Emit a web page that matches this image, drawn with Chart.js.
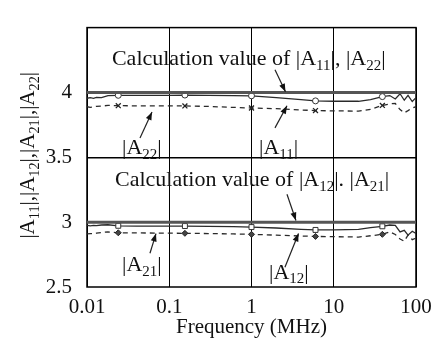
<!DOCTYPE html>
<html><head><meta charset="utf-8">
<script src="https://cdn.jsdelivr.net/npm/chart.js@4/dist/chart.umd.min.js"></script>
<style>html,body{margin:0;padding:0;background:#fff;}#wrap{width:444px;height:347px;position:relative;}</style>
</head><body><div id="wrap"><canvas id="c"></canvas></div>
<script>
// ---- data (frequency in MHz) ----
const freq = [0.01,0.011,0.012,0.013,0.015,0.018,0.024,0.04,0.07,0.1,0.155,0.3,0.6,1,2,4,6,10,20,28,39,48,56,64,72,80,90,100];
const a11 = [3.955,3.96,3.955,3.962,3.96,3.975,3.978,3.978,3.978,3.978,3.98,3.978,3.976,3.974,3.96,3.945,3.935,3.932,3.932,3.945,3.968,3.976,3.95,3.99,3.94,3.978,3.93,3.96];
const a22 = [3.89,3.885,3.888,3.893,3.895,3.9,3.898,3.897,3.897,3.896,3.896,3.892,3.885,3.88,3.875,3.865,3.86,3.858,3.856,3.87,3.9,3.912,3.915,3.868,3.843,3.86,3.88,3.89];
const a12 = [2.975,2.972,2.975,2.973,2.978,2.98,2.972,2.97,2.97,2.97,2.97,2.968,2.965,2.962,2.955,2.945,2.94,2.94,2.945,2.958,2.968,2.978,2.975,2.925,2.937,2.9,2.93,2.913];
const a21 = [2.91,2.912,2.91,2.915,2.92,2.925,2.918,2.917,2.916,2.915,2.914,2.912,2.909,2.906,2.9,2.893,2.89,2.888,2.885,2.895,2.906,2.925,2.905,2.87,2.853,2.9,2.865,2.877];
const calcFreq = [0.01, 100];
const calcA11A22 = [4.0, 4.0];
const calcA12A21 = [3.0, 3.0];
const markerFreqs = [0.024, 0.155, 1, 6, 39];
const xTicks = [0.01, 0.1, 1, 10, 100];
const xTickLabels = ['0.01', '0.1', '1', '10', '100'];
const yTicks = [2.5, 3, 3.5, 4, 4.5];
const yTickLabels = ['2.5', '3', '3.5', '4', ''];
const xTitle = 'Frequency (MHz)';
const yTitle = '|A_{11}|,|A_{12}|,|A_{21}|,|A_{22}|';
// annotations: [text, freq, value]
const noteTexts = ['Calculation value of |A_{11}|, |A_{22}|', 'Calculation value of |A_{12}|. |A_{21}|', '|A_{22}|', '|A_{11}|', '|A_{21}|', '|A_{12}|'];
const noteFreqs = [0.0201, 0.0219, 0.0267, 1.234, 0.0267, 1.633];
const noteValues = [4.211, 3.28, 3.525, 3.525, 2.623, 2.565];
// arrows: tail (freq,value) -> head (freq,value)
const arrowTailFreqs = [0.0441, 1.93, 1.93, 0.0583, 2.70, 2.55];
const arrowTailValues = [3.648, 4.175, 3.727, 2.76, 3.215, 2.652];
const arrowHeadFreqs = [0.0617, 2.59, 2.70, 0.069, 3.47, 3.73];
const arrowHeadValues = [3.85, 4.005, 3.897, 2.912, 3.013, 2.912];

const FONT = "'Liberation Serif','Times New Roman',serif";
const pts = (xs, ys) => xs.map((x, i) => ({x, y: ys[i]}));
const markR = r => ctx => markerFreqs.includes(freq[ctx.dataIndex]) ? r : 0;

function drawRich(ctx, str, x, y, size, measureOnly) {
  const parts = str.split(/_\{(\d+)\}/);
  let cx = x;
  parts.forEach((p, i) => {
    if (!p) return;
    const sub = i % 2 === 1;
    const fs = sub ? size * 0.68 : size;
    ctx.font = fs + 'px ' + FONT;
    if (!measureOnly) ctx.fillText(p, cx, y + (sub ? size * 0.22 : 0));
    cx += ctx.measureText(p).width;
  });
  return cx - x;
}
function arrow(ctx, x1, y1, x2, y2) {
  ctx.beginPath(); ctx.moveTo(x1, y1); ctx.lineTo(x2, y2); ctx.stroke();
  const a = Math.atan2(y2 - y1, x2 - x1), L = 8, W = 3;
  ctx.beginPath();
  ctx.moveTo(x2, y2);
  ctx.lineTo(x2 - L * Math.cos(a) + W * Math.sin(a), y2 - L * Math.sin(a) - W * Math.cos(a));
  ctx.lineTo(x2 - L * Math.cos(a) - W * Math.sin(a), y2 - L * Math.sin(a) + W * Math.cos(a));
  ctx.closePath(); ctx.fill();
}

const decor = {
  id: 'decor',
  beforeDatasetsDraw(chart) {
    const {ctx, chartArea: a} = chart;
    ctx.save(); ctx.strokeStyle = '#000'; ctx.lineWidth = 1.5;
    ctx.strokeRect(a.left, a.top, a.right - a.left, a.bottom - a.top);
    ctx.restore();
  },
  afterDatasetsDraw(chart) {
    const {ctx} = chart, xs = chart.scales.x, ys = chart.scales.y;
    ctx.save();
    ctx.fillStyle = '#111'; ctx.strokeStyle = '#222'; ctx.lineWidth = 1.2;
    ctx.textBaseline = 'alphabetic'; ctx.textAlign = 'left';
    noteTexts.forEach((t, i) => drawRich(ctx, t, xs.getPixelForValue(noteFreqs[i]), ys.getPixelForValue(noteValues[i]), 22));
    arrowTailFreqs.forEach((f, i) => arrow(ctx, xs.getPixelForValue(f), ys.getPixelForValue(arrowTailValues[i]), xs.getPixelForValue(arrowHeadFreqs[i]), ys.getPixelForValue(arrowHeadValues[i])));
    // y axis title (rotated)
    const a = chart.chartArea;
    ctx.translate(34, (a.top + a.bottom) / 2 - 2);
    ctx.rotate(-Math.PI / 2);
    const w = drawRich(ctx, yTitle, 0, 0, 21, true);
    drawRich(ctx, yTitle, -w / 2, 0, 21);
    ctx.restore();
  }
};

const lineDs = (label, xs, ys, o) => Object.assign({label, data: pts(xs, ys), borderColor: '#2a2a2a', backgroundColor: '#fff', borderWidth: 1.3, pointRadius: 0, tension: 0, fill: false}, o);

new Chart(document.getElementById('c'), {
  type: 'line',
  data: {datasets: [
    lineDs('Calculation |A11|,|A22|', calcFreq, calcA11A22, {borderColor: '#555', borderWidth: 3}),
    lineDs('Calculation |A12|,|A21|', calcFreq, calcA12A21, {borderColor: '#555', borderWidth: 3}),
    lineDs('|A11|', freq, a11, {pointStyle: 'circle', pointRadius: markR(3), pointBorderColor: '#333', pointBackgroundColor: '#fff', pointBorderWidth: 1}),
    lineDs('|A22|', freq, a22, {borderDash: [5, 4], pointStyle: 'crossRot', pointRadius: markR(3.5), pointBorderColor: '#222', pointBorderWidth: 1.3}),
    lineDs('|A12|', freq, a12, {pointStyle: 'rect', pointRadius: markR(3.5), pointBorderColor: '#333', pointBackgroundColor: '#fff', pointBorderWidth: 1}),
    lineDs('|A21|', freq, a21, {borderDash: [5, 4], pointStyle: 'rectRot', pointRadius: markR(3), pointBorderColor: '#222', pointBackgroundColor: '#444', pointBorderWidth: 1})
  ]},
  options: {
    responsive: true, maintainAspectRatio: false, animation: false,
    layout: {padding: {top: 10, right: 28, left: 0, bottom: 0}},
    plugins: {legend: {display: false}, tooltip: {enabled: false}},
    scales: {
      x: {
        type: 'logarithmic', min: 0.01, max: 100,
        afterBuildTicks: s => { s.ticks = xTicks.map(v => ({value: v})); },
        afterFit: s => { s.height = 60; },
        ticks: {color: '#111', font: {family: FONT, size: 21}, padding: 8, maxRotation: 0, autoSkip: false,
          callback: (v, i) => xTickLabels[i]},
        grid: {color: '#000', lineWidth: 1, drawTicks: false},
        border: {display: false},
        title: {display: true, text: xTitle, color: '#111', font: {family: FONT, size: 21}, padding: {top: 0, bottom: 7}}
      },
      y: {
        min: 2.5, max: 4.5,
        afterBuildTicks: s => { s.ticks = yTicks.map(v => ({value: v})); },
        afterFit: s => { s.width = 87; },
        ticks: {color: '#111', font: {family: FONT, size: 21}, padding: 15,
          callback: (v, i) => yTickLabels[i]},
        grid: {color: c => c.tick && c.tick.value === 3.5 ? '#000' : 'rgba(0,0,0,0)', lineWidth: 1.5, drawTicks: false},
        border: {display: false}
      }
    }
  },
  plugins: [decor]
});
</script></body></html>
